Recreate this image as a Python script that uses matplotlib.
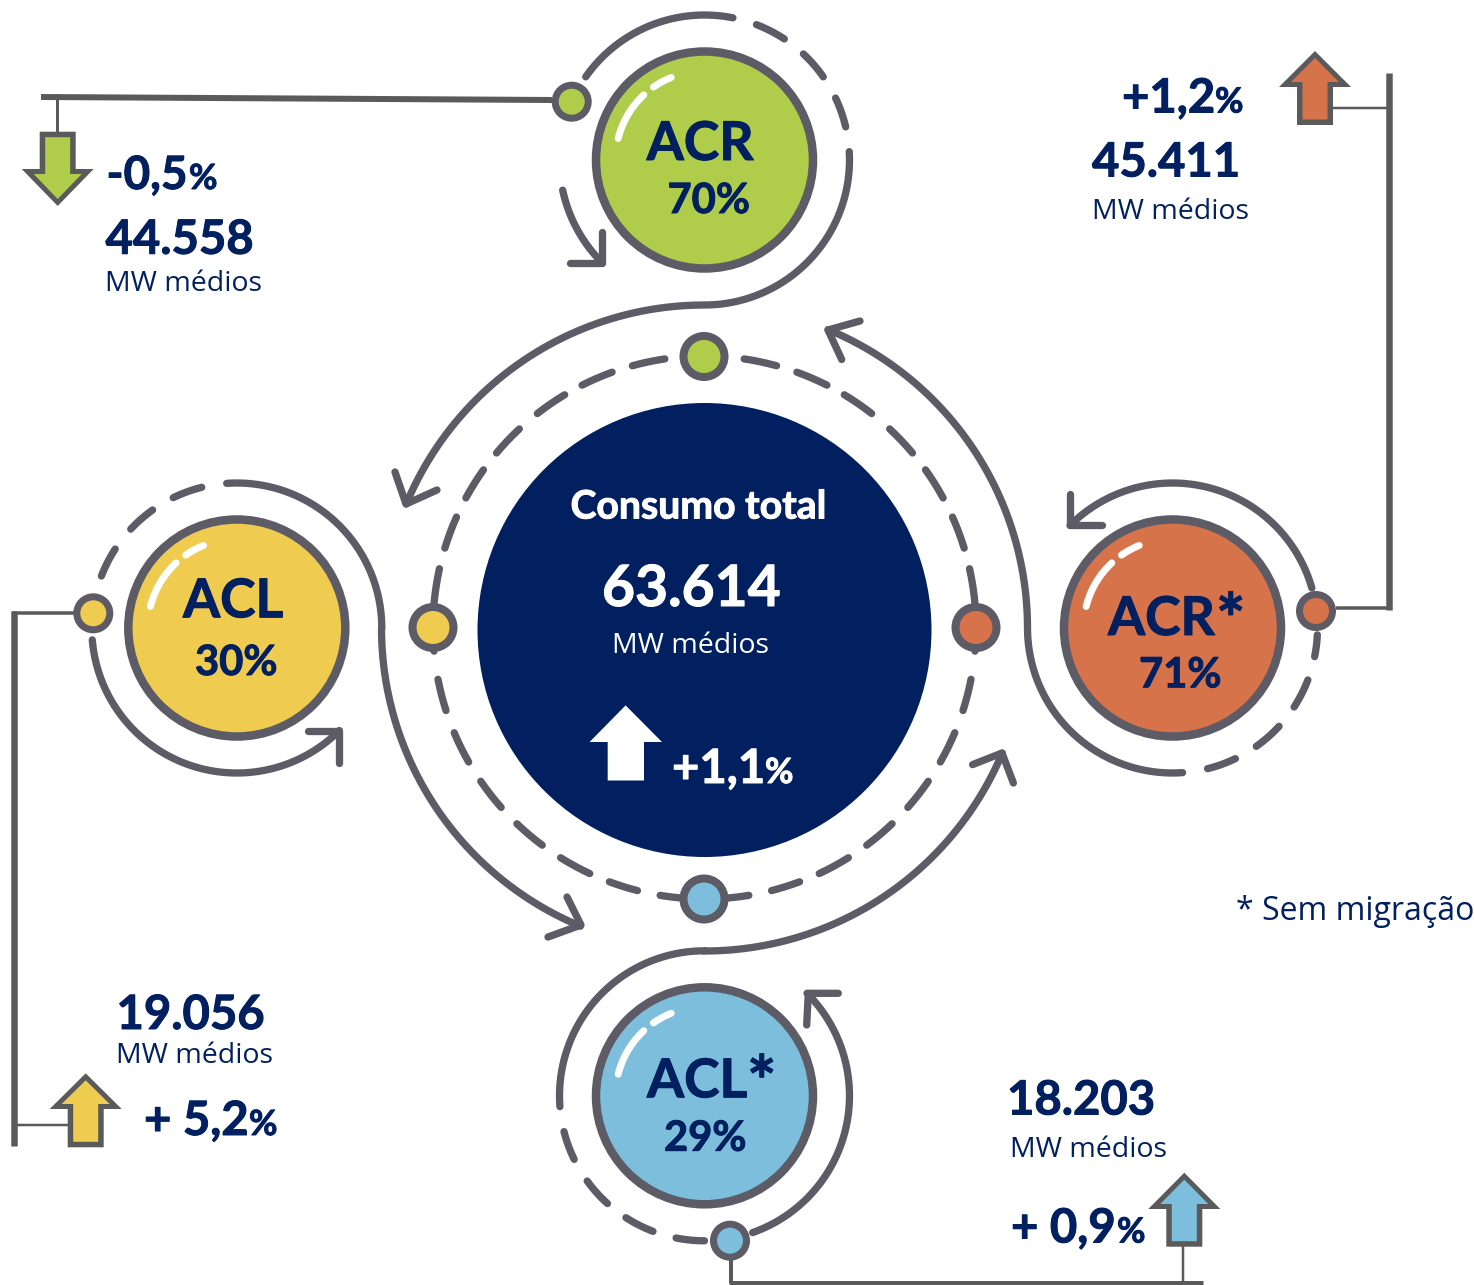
import numpy as np
import matplotlib
matplotlib.use('Agg')
import matplotlib.pyplot as plt
import matplotlib.patheffects as pe
from matplotlib.patches import Circle, Polygon

# values shown in the picture
names = ['ACR', 'ACL', 'ACR', 'ACL']
shares = ['70%', '30%', '71%', '29%']
averages = ['44.558', '19.056', '45.411', '18.203']
changes = ['-0,5', '+ 5,2', '+1,2', '+ 0,9']
total_title = 'Consumo total'
total_value = '63.614'
total_change = '+1,1'
unit = 'MW médios'
footnote = '* Sem migração'

# colours
GREEN, YELLOW, ORANGE, BLUE = '#AFCD4B', '#EFCB50', '#D6734A', '#7CBEDC'
NAVY = '#02205F'
GRAY = '#5C5B66'
LINK = '#5A5A5A'

W, H = 1474, 1285
CX, CY = 704.5, 628
PT = 0.72  # points per pixel at dpi 100

fig = plt.figure(figsize=(W / 100, H / 100), dpi=100, facecolor='w')
ax = fig.add_axes([0, 0, 1, 1])
ax.set_xlim(0, W)
ax.set_ylim(H, 0)
ax.axis('off')


# angles are in degrees, clockwise from the top
def arc(cx, cy, r, a0, a1):
    a = np.radians(np.linspace(a0, a1, 200))
    return cx + r * np.sin(a), cy - r * np.cos(a)


def stroke(x, y, w=7.3, color=GRAY, cap='round', z=2):
    ax.plot(x, y, color=color, lw=w * PT, solid_capstyle=cap,
            solid_joinstyle='round', zorder=z)


def dashes(cx, cy, r, spans, w=7.3):
    for a0, a1 in spans:
        stroke(*arc(cx, cy, r, a0, a1), w=w)


def s_curve(ring, ring_span, big_span):
    x1, y1 = arc(ring[0], ring[1], 145, *ring_span)
    x2, y2 = arc(CX, CY, 323, *big_span)
    stroke(np.r_[x1, x2], np.r_[y1, y2])


def head(tip, p1, p2):
    stroke([p1[0], tip[0], p2[0]], [p1[1], tip[1], p2[1]])


def ball(cx, cy, color):
    ax.add_patch(Circle((cx, cy), 108.5, fc=color, ec=GRAY, lw=8.5 * PT, zorder=3))
    stroke(*arc(cx, cy, 89, -76, -43), w=7, color='w', z=4)
    stroke(*arc(cx, cy, 89, -35, -22), w=7, color='w', z=4)


def node(cx, cy, color, r=16.5, w=7):
    ax.add_patch(Circle((cx, cy), r, fc=color, ec=GRAY, lw=w * PT, zorder=5))


def updown(cx, tip, base, end, color):
    # outer grey arrow with a coloured one inside, works both ways up
    s = 1 if end > tip else -1
    outer = [(cx, tip), (cx + 36, base), (cx + 18, base), (cx + 18, end),
             (cx - 18, end), (cx - 18, base), (cx - 36, base)]
    inner = [(cx, tip + s * 7), (cx + 24, base - s * 5), (cx + 12.5, base - s * 5),
             (cx + 12.5, end - s * 5.5), (cx - 12.5, end - s * 5.5),
             (cx - 12.5, base - s * 5), (cx - 24, base - s * 5)]
    ax.add_patch(Polygon(outer, closed=True, fc=LINK, ec='none', zorder=3))
    ax.add_patch(Polygon(inner, closed=True, fc=color, ec='none', zorder=4))


def label(x, y, s, size, color=NAVY, weight='bold', family='Lato'):
    t = ax.text(x, y, s, fontsize=size, color=color, fontweight=weight, family=family,
                ha='left', va='baseline', zorder=6)
    if weight == 'bold':
        # Lato bold is a bit lighter than the original face
        t.set_path_effects([pe.withStroke(linewidth=0.7, foreground=color)])


def change(x, y, num, x_pct, color=NAVY, size=34, size_pct=25):
    label(x, y, num, size, color)
    label(x_pct, y, '%', size_pct, color)


def star(x, y):
    label(x, y + 9, '*', 50)


# centre
ax.add_patch(Circle((CX, 630), 227, fc=NAVY, ec='none', zorder=3))
ring_right = [(8.4, 15.4), (19.9, 26.8), (31, 38), (43, 50), (54.5, 61.5), (66, 73), (77.5, 86),
              (92, 95), (101, 107.8), (112.8, 119.7), (124.5, 131.5), (136.3, 143.3),
              (148, 155), (159.5, 165.7), (170.6, 178)]
dashes(CX, 627.5, 271.5, ring_right)
dashes(CX, 627.5, 271.5, [(-a1, -a0) for a0, a1 in ring_right])
node(704, 356.5, GREEN, r=20.5, w=8)
node(433, 627.5, YELLOW, r=20.5, w=8)
node(976, 627.5, ORANGE, r=20.5, w=8)
node(704, 899, BLUE, r=20.5, w=8)

# ACR, top
c = (704.5, 160)
stroke(*arc(*c, 145, 305, 371.3))
dashes(*c, 145, [(21, 33.4), (43, 55), (64.7, 76.8)])
stroke(*arc(*c, 145, 258, 225))
head((601.7, 263.3), (601.7, 231.7), (570, 263.3))
s_curve(c, (86.7, 180), (360, 292.6))
head((406, 504), (395, 472), (437, 490))
ball(*c, GREEN)

# ACL, left
c = (236.8, 628)
dashes(*c, 145, [(-14, -26), (-35.5, -47), (-57, -69)])
stroke(*arc(*c, 145, -94.7, -225))
head((339.3, 730.7), (308, 730.7), (339.3, 762.7))
s_curve(c, (-4, 90), (270, 202.6))
head((581, 925), (567, 897), (548, 937))
ball(*c, YELLOW)

# ACL*, bottom
c = (704.5, 1095.8)
dashes(*c, 145, [(255.7, 244), (234, 222), (212.8, 200.8), (191.3, 180)])
stroke(*arc(*c, 145, 160.6, 45))
head((808.3, 993.3), (838.3, 993.3), (806.7, 1025))
s_curve(c, (265.7, 360), (180, 112.8))
head((1002, 753), (972.6, 764.6), (1013.4, 783))
ball(*c, BLUE)

# ACR*, right
c = (1172.5, 628)
dashes(*c, 145, [(92.7, 101.4), (111, 123), (132.7, 144.7), (154.3, 166)])
stroke(*arc(*c, 145, 74, -45))
head((1070, 525), (1070, 494), (1101.7, 525))
s_curve(c, (176, 270), (90, 22.5))
head((828, 330), (860, 321), (841.7, 359.5))
ball(*c, ORANGE)

# leader lines
stroke([41, 552], [97, 100], w=6, color=LINK, cap='butt')
stroke([57.5, 57.5], [94, 133], w=3, color=LINK, cap='butt')
stroke([1389.5, 1389.5], [73, 610], w=6.5, color=LINK, cap='butt')
stroke([1336, 1392], [608, 608], w=3.5, color=LINK, cap='butt')
stroke([1333, 1387], [107.5, 107.5], w=2.5, color=LINK, cap='butt')
stroke([14.5, 14.5], [611, 1146], w=6.5, color=LINK, cap='butt')
stroke([12, 74], [613, 613], w=3.5, color=LINK, cap='butt')
stroke([17, 68], [1125, 1125], w=2.5, color=LINK, cap='butt')
stroke([731, 731], [1258, 1283], w=4, color=LINK, cap='butt')
stroke([729, 1203], [1282.5, 1282.5], w=5, color=LINK, cap='butt')
stroke([1183.5, 1183.5], [1246, 1282], w=2.5, color=LINK, cap='butt')

# small nodes go over the leader lines
node(571.7, 101.7, GREEN)
node(93.3, 613.3, YELLOW)
node(1316, 611, ORANGE)
node(730, 1240.7, BLUE)

# side arrows
updown(57.7, 206, 169, 131.7, GREEN)
updown(85.7, 1073.3, 1109, 1147.3, YELLOW)
updown(1315, 51, 87, 125, ORANGE)
updown(1184.3, 1172.7, 1209, 1246.7, BLUE)
ax.add_patch(Polygon([(625.6, 705.4), (662, 742), (644, 742), (644, 780.5), (607.7, 780.5),
                      (607.7, 742), (589.6, 742)], closed=True, fc='w', ec='none', zorder=4))

# circle labels
label(646.7, 160, names[0], 38.5)
label(667.5, 213, shares[0], 30)
label(183, 617.3, names[1], 38.5)
label(195, 675, shares[1], 30)
label(1108, 635, names[2], 38.5)
star(1216, 635)
label(1139, 687.3, shares[2], 30)
label(647, 1097.3, names[3], 38.5)
star(747, 1097.3)
label(664, 1150.7, shares[3], 30)

# side figures
change(106.5, 189, changes[0], 189, size=33)
label(105.5, 253.8, averages[0], 34)
label(105.5, 291, unit, 20.5, weight='normal', family='Open Sans')

change(1122, 112.5, changes[2], 1215)
label(1092, 176.5, averages[2], 34)
label(1092, 219, unit, 20.5, weight='normal', family='Open Sans')

label(116.5, 1029, averages[1], 34)
label(116.5, 1063, unit, 20.5, weight='normal', family='Open Sans')
change(144, 1135, changes[1], 249)

label(1007, 1114.5, averages[3], 34)
label(1010, 1157, unit, 20.5, weight='normal', family='Open Sans')
change(1011, 1242.5, changes[3], 1117)

# centre texts
label(570.5, 518.5, total_title, 28.2, 'w')
label(602, 606, total_value, 41, 'w')
label(612, 653, unit, 20.5, 'w', weight='normal', family='Open Sans')
change(672, 783, total_change, 765, 'w')

label(1236, 920.5, footnote, 23, weight='normal', family='Open Sans')

fig.savefig('out.png', dpi=100, facecolor='w')
